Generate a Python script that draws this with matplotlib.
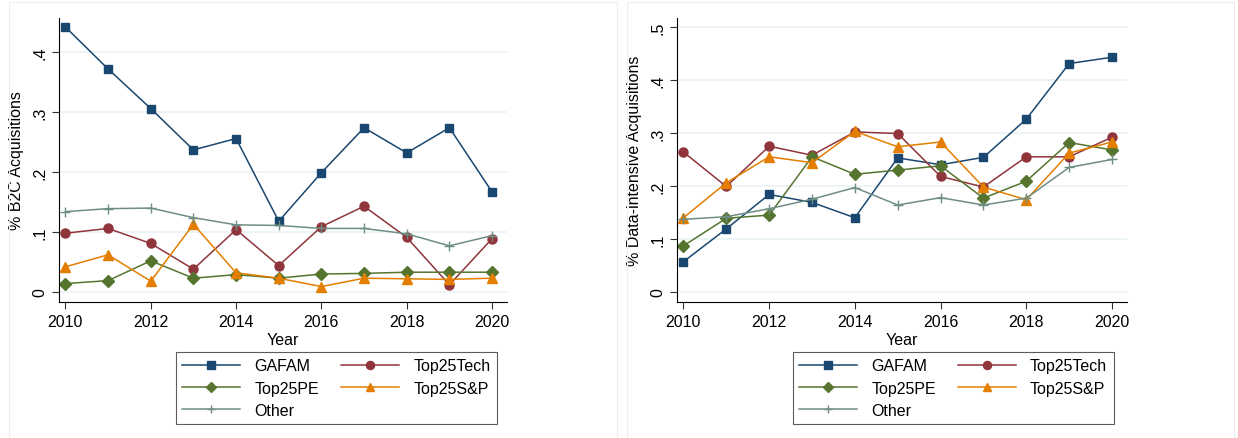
import matplotlib.pyplot as plt
from matplotlib.patches import Rectangle

plt.rcParams["font.family"] = ["Liberation Sans", "DejaVu Sans"]

years = list(range(2010, 2021))
groups = ["GAFAM", "Top25Tech", "Top25PE", "Top25S&P", "Other"]

# % B2C acquisitions
b2c_gafam = [0.442, 0.372, 0.306, 0.237, 0.256, 0.118, 0.199, 0.274, 0.232, 0.274, 0.167]
b2c_tech = [0.098, 0.106, 0.081, 0.038, 0.104, 0.044, 0.109, 0.143, 0.091, 0.012, 0.089]
b2c_pe = [0.014, 0.019, 0.052, 0.023, 0.029, 0.023, 0.030, 0.031, 0.033, 0.033, 0.033]
b2c_sp = [0.042, 0.062, 0.018, 0.113, 0.032, 0.023, 0.009, 0.023, 0.022, 0.021, 0.023]
b2c_other = [0.134, 0.139, 0.140, 0.124, 0.112, 0.111, 0.106, 0.106, 0.097, 0.077, 0.094]

# % data-intensive acquisitions
di_gafam = [0.057, 0.119, 0.184, 0.169, 0.140, 0.253, 0.240, 0.254, 0.326, 0.431, 0.443]
di_tech = [0.264, 0.199, 0.275, 0.258, 0.302, 0.299, 0.218, 0.198, 0.255, 0.255, 0.292]
di_pe = [0.087, 0.139, 0.145, 0.255, 0.222, 0.230, 0.238, 0.177, 0.209, 0.282, 0.268]
di_sp = [0.140, 0.206, 0.255, 0.244, 0.303, 0.274, 0.283, 0.198, 0.174, 0.262, 0.283]
di_other = [0.137, 0.142, 0.157, 0.175, 0.197, 0.164, 0.178, 0.164, 0.177, 0.235, 0.250]

# Stata s2color palette
colors = ["#1a476f", "#90353b", "#55752f", "#e37e00", "#6e8e84"]
markers = ["s", "o", "D", "^", "+"]
msizes = [6, 6.5, 6, 6.5, 7]

fig = plt.figure(figsize=(12.38, 4.39), dpi=100)

# faint graph-region frames
for x0, x1 in [(9, 617), (627, 1234)]:
    fig.patches.append(Rectangle((x0 / 1238, -0.01), (x1 - x0) / 1238, 1 - 3 / 439 + 0.01,
                                 transform=fig.transFigure, fill=False,
                                 edgecolor="#eeeeee", linewidth=0.8))

panels = [
    ([59, 507], [b2c_gafam, b2c_tech, b2c_pe, b2c_sp, b2c_other], "% B2C Acquisitions",
     (-0.0167, 0.457), [0, 0.1, 0.2, 0.3, 0.4], ["0", ".1", ".2", ".3", ".4"], 176),
    ([677, 1127], [di_gafam, di_tech, di_pe, di_sp, di_other], "% Data-intensive Acquisitions",
     (-0.019, 0.517), [0, 0.1, 0.2, 0.3, 0.4, 0.5], ["0", ".1", ".2", ".3", ".4", ".5"], 793),
]

for (xl, xr), series, ylabel, ylim, yt, ytl, lx0 in panels:
    ax = fig.add_axes([xl / 1238, 1 - 303 / 439, (xr - xl) / 1238, (303 - 19) / 439])
    for vals, name, c, m, ms in zip(series, groups, colors, markers, msizes):
        ax.plot(years, vals, color=c, marker=m, markersize=ms, linewidth=1.1,
                markeredgewidth=1.0, label=name)
    ax.set_xlim(2009.85, 2020.35)
    ax.set_ylim(*ylim)
    ax.set_xticks([2010, 2012, 2014, 2016, 2018, 2020])
    ax.set_yticks(yt)
    ax.set_yticklabels(ytl, rotation=90, va="center")
    ax.grid(axis="y", color="#eaf2f3", linewidth=1.2)
    ax.set_axisbelow(True)
    for s in ["top", "right"]:
        ax.spines[s].set_visible(False)
    ax.tick_params(labelsize=11.5, length=5, color="#333333")
    ax.set_ylabel(ylabel, fontsize=11.5, labelpad=6)
    ax.set_xlabel("Year", fontsize=11.5, labelpad=2)

    # row-wise legend order like Stata: reorder for matplotlib's column filling
    h, l = ax.get_legend_handles_labels()
    order = [0, 2, 4, 1, 3]
    leg = fig.legend([h[i] for i in order], [l[i] for i in order], ncol=2,
                     fontsize=11.5, loc="upper left",
                     bbox_to_anchor=(lx0 / 1238, 1 - 353 / 439),
                     frameon=True, fancybox=False, edgecolor="#333333",
                     handlelength=3.6, borderpad=0.4, labelspacing=0.45,
                     columnspacing=1.4, handletextpad=0.9, borderaxespad=0,
                     markerscale=0.9)
    leg.get_frame().set_linewidth(0.8)

fig.savefig("out.png", dpi=100)
